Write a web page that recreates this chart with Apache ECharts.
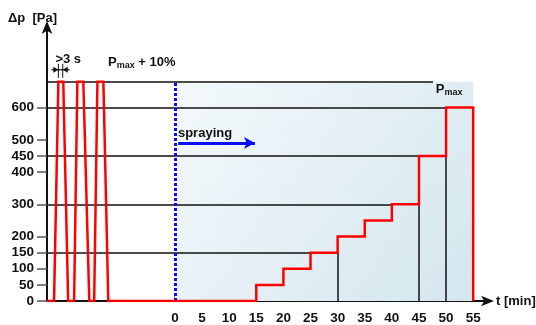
<!DOCTYPE html>
<html><head><meta charset="utf-8">
<script src="https://cdn.jsdelivr.net/npm/echarts@6/dist/echarts.min.js"></script>
<style>html,body{margin:0;padding:0;background:#fff}#c{width:536px;height:325px}</style>
</head><body><div id="c"></div>
<script>
// ---- data ----
const xTicks = [0, 5, 10, 15, 20, 25, 30, 35, 40, 45, 50, 55];
const yTicks = [0, 50, 100, 150, 200, 300, 400, 450, 500, 600];
const PMAX10 = 680;
// pre-test pulses (time axis before spraying, in min-equivalent units)
const pulseX = [-23.6, -22.3, -21.5, -20.6, -19.7, -18.6, -18.0, -16.9, -15.8, -14.9, -14.3, -13.2, -12.3];
const pulseY = [0, 0, 680, 680, 0, 0, 680, 680, 0, 0, 680, 680, 0];
// staircase during spraying
const stepX = [15, 15, 20, 20, 25, 25, 30, 30, 35, 35, 40, 40, 45, 45, 50, 50, 55, 55];
const stepY = [0, 50, 50, 100, 100, 150, 150, 200, 200, 250, 250, 300, 300, 450, 450, 600, 600, 0];
// horizontal reference lines: level and where they end
const refLevel = [680, 600, 450, 300, 150];
const refEnd = [47.6, 50, 45, 40, 25];
// vertical drop lines
const dropX = [30, 45, 50];
const dropTop = [150, 300, 450];
const sprayStart = 0, sprayEnd = 55;

const redData = [];
pulseX.forEach((x, i) => redData.push([x, pulseY[i]]));
stepX.forEach((x, i) => redData.push([x, stepY[i]]));

const XMIN = -23.6, XMAX = 58.1, YMAX = 856;
const font = '"Liberation Sans", Arial, sans-serif';
const FS = 13, TFS = 13.5;

const blackLines = [];
refLevel.forEach((v, i) => blackLines.push([{coord: [XMIN, v]}, {coord: [refEnd[i], v]}]));
dropX.forEach((x, i) => blackLines.push([{coord: [x, 0]}, {coord: [x, dropTop[i]]}]));

const chart = echarts.init(document.getElementById('c'), null, {renderer: 'canvas'});
chart.setOption({
  animation: false,
  grid: {left: 47, right: 46, top: 25, bottom: 24, containLabel: false, outerBoundsMode: 'none'},
  xAxis: {
    type: 'value', min: XMIN, max: XMAX,
    splitLine: {show: false},
    axisLine: {show: true, onZero: false, symbol: ['none', 'arrow'], symbolSize: [8, 13], symbolOffset: [0, 4],
      lineStyle: {color: '#111', width: 2}},
    axisTick: {show: true, inside: true, length: 7, customValues: xTicks, lineStyle: {color: '#555', width: 1.5}},
    axisLabel: {customValues: xTicks, fontFamily: font, fontWeight: 'bold', fontSize: TFS, color: '#111', margin: 10},
    name: 't [min]', nameLocation: 'end', nameGap: 6,
    nameTextStyle: {fontFamily: font, fontWeight: 'bold', fontSize: FS, color: '#111', verticalAlign: 'middle', align: 'left', padding: [4, 0, 0, 0]}
  },
  yAxis: {
    type: 'value', min: 0, max: YMAX,
    splitLine: {show: false},
    axisLine: {show: true, onZero: false, symbol: ['none', 'arrow'], symbolSize: [8, 13], symbolOffset: [0, 4],
      lineStyle: {color: '#111', width: 2}},
    axisTick: {show: true, inside: false, length: 10, customValues: yTicks, lineStyle: {color: '#555', width: 1.5}},
    axisLabel: {customValues: yTicks, fontFamily: font, fontWeight: 'bold', fontSize: TFS, color: '#111', margin: 13}
  },
  series: [
    {
      type: 'line', data: [], silent: true,
      markArea: {silent: true,
        itemStyle: {color: new echarts.graphic.LinearGradient(0, 0, 1, 1, [
          {offset: 0, color: '#f4f9fb'}, {offset: 1, color: '#d3e6ee'}])},
        data: [[{coord: [sprayStart, 0]}, {coord: [sprayEnd, PMAX10]}]]},
      markLine: {silent: true, symbol: ['none', 'none'], label: {show: false},
        lineStyle: {color: '#111', width: 1.5, type: 'solid'},
        data: blackLines},
      z: 1
    },
    {
      type: 'line', data: [], silent: true,
      markLine: {silent: true, label: {show: false},
        data: [
          [{coord: [sprayStart, 0], symbol: 'none', lineStyle: {color: '#0a0aff', width: 3, type: [3, 2]}},
           {coord: [sprayStart, PMAX10], symbol: 'none'}],
          [{coord: [0.6, 490], symbol: 'none', lineStyle: {color: '#0a0aff', width: 3, type: 'solid'}},
           {coord: [14.75, 490], symbol: 'arrow', symbolSize: [9, 11]}]
        ]},
      z: 3
    },
    {
      type: 'line', data: redData, symbol: 'none', silent: true,
      lineStyle: {color: '#ff0000', width: 2.5, join: 'miter'},
      z: 5
    }
  ]
});

// annotations positioned via the chart's own scales
const P = (x, y) => chart.convertToPixel({gridIndex: 0}, [x, y]);
const tStyle = {fontFamily: font, fontWeight: 'bold', fontSize: FS, fill: '#111'};
const gpts = [];
gpts.push({type: 'text', left: 8, top: 12, style: Object.assign({text: 'Δp  [Pa]'}, tStyle)});
const sprayP = P(0.55, 490);
gpts.push({type: 'text', x: sprayP[0], y: sprayP[1] - 16, style: Object.assign({text: 'spraying'}, tStyle)});
const rich = {p: {fontSize: FS, fontWeight: 'bold', fill: '#111', fontFamily: font},
              s: {fontSize: 9, fontWeight: 'bold', fill: '#111', fontFamily: font, padding: [6, 0, 0, 0]}};
const pm10 = P(-12.35, 762);
gpts.push({type: 'text', x: pm10[0], y: pm10[1], style: {text: '{p|P}{s|max}{p| + 10%}', fontFamily: font, rich: rich}});
const pm = P(48.1, 680);
gpts.push({type: 'text', x: pm[0], y: pm[1], style: {text: '{p|P}{s|max}', fontFamily: font, rich: rich}});
// ">3 s" pulse-width marker
const a = P(-21.5, PMAX10), b = P(-20.7, PMAX10);
const ay = a[1] - 12;
gpts.push({type: 'text', x: a[0] - 3, y: ay - 17, style: Object.assign({text: '>3 s', fontSize: 14}, tStyle)});
gpts.push({type: 'line', shape: {x1: a[0], y1: ay - 6, x2: a[0], y2: ay + 8}, style: {stroke: '#111', lineWidth: 1}});
gpts.push({type: 'line', shape: {x1: b[0], y1: ay - 6, x2: b[0], y2: ay + 8}, style: {stroke: '#111', lineWidth: 1}});
gpts.push({type: 'line', shape: {x1: a[0] - 7, y1: ay, x2: b[0] + 7, y2: ay}, style: {stroke: '#111', lineWidth: 1.2}});
gpts.push({type: 'polygon', shape: {points: [[a[0], ay], [a[0] - 5, ay - 3], [a[0] - 5, ay + 3]]}, style: {fill: '#111'}});
gpts.push({type: 'polygon', shape: {points: [[b[0], ay], [b[0] + 5, ay - 3], [b[0] + 5, ay + 3]]}, style: {fill: '#111'}});
gpts.forEach(g => { g.z = 100; });
chart.setOption({graphic: {elements: gpts}});
</script></body></html>
